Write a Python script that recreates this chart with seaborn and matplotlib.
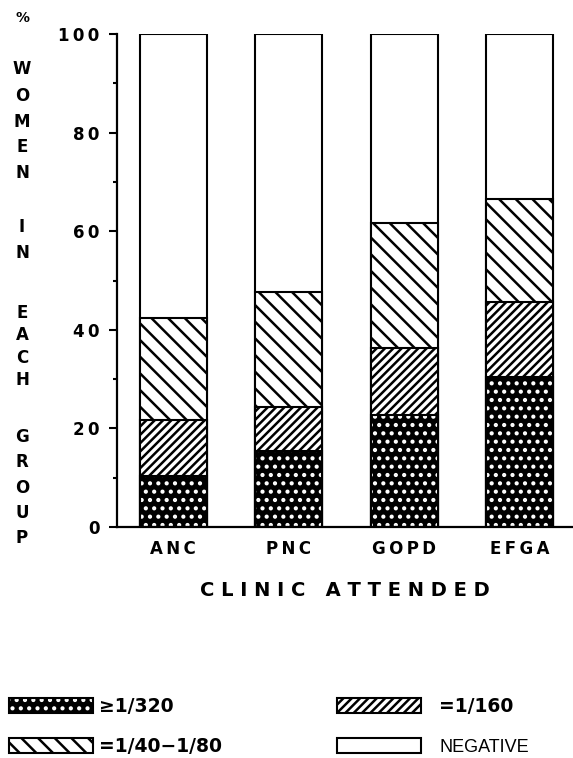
import numpy as np
import pandas as pd
import matplotlib
matplotlib.use('Agg')
import matplotlib.pyplot as plt
import seaborn as sns
from matplotlib.patches import Patch

# data (% of women in each group)
clinics = ['ANC', 'PNC', 'GOPD', 'EFGA']
titre_320 = [10.4, 15.4, 22.8, 30.4]      # >=1/320
titre_160 = [11.4, 8.9, 13.5, 15.3]       # =1/160
titre_40_80 = [20.7, 23.3, 25.3, 20.8]    # =1/40-1/80
negative = [57.5, 52.4, 38.4, 33.5]
legend_labels = ['≥1/320', '=1/160', '=1/40−1/80', 'NEGATIVE']
yticks = [0, 20, 40, 60, 80, 100]
ylabel = '% WOMEN IN EACH GROUP'
xlabel = 'CLINIC ATTENDED'

sns.set_style('ticks')
plt.rcParams['font.family'] = ['DejaVu Sans']
plt.rcParams['hatch.linewidth'] = 1.8
for k in ['text.color', 'axes.labelcolor', 'xtick.color', 'ytick.color', 'axes.edgecolor']:
    plt.rcParams[k] = 'black'

df = pd.DataFrame({'clinic': clinics, 'c320': titre_320, 'c160': titre_160,
                   'c40': titre_40_80, 'neg': negative})
df['top320'] = df['c320']
df['top160'] = df['top320'] + df['c160']
df['top40'] = df['top160'] + df['c40']
df['topneg'] = df['top40'] + df['neg']

fig = plt.figure(figsize=(5.73, 7.58), dpi=100)
ax = fig.add_axes([0.2037, 0.3047, 0.7963, 0.6504])

bw = 0.58
lw = 1.5
# tallest first, each layer covers the one below
sns.barplot(data=df, x='clinic', y='topneg', color='white', saturation=1, width=bw,
            edgecolor='black', linewidth=lw, errorbar=None, ax=ax)
sns.barplot(data=df, x='clinic', y='top40', color='white', saturation=1, width=bw,
            edgecolor='black', linewidth=lw, hatch='\\\\', errorbar=None, ax=ax)
sns.barplot(data=df, x='clinic', y='top160', color='white', saturation=1, width=bw,
            edgecolor='black', linewidth=lw, hatch='////', errorbar=None, ax=ax)
sns.barplot(data=df, x='clinic', y='top320', color='black', saturation=1, width=bw,
            edgecolor='white', linewidth=0, hatch='..', errorbar=None, ax=ax)
sns.barplot(data=df, x='clinic', y='top320', fill=False, color='black', width=bw,
            linewidth=lw, errorbar=None, ax=ax)

ax.set_ylim(0, 100)
ax.set_xlim(-0.49, 3.46)
sns.despine(ax=ax)
ax.spines['left'].set_linewidth(1.6)
ax.spines['bottom'].set_linewidth(1.6)
ax.set_yticks(yticks)
ax.set_yticks(np.arange(10, 100, 20), minor=True)
ax.set_yticklabels(['\u2009'.join(str(t)) for t in yticks], fontsize=12, fontweight='bold')
ax.set_xticks(range(len(clinics)))
ax.set_xticklabels(['\u2009'.join(c) for c in clinics], fontsize=12, fontweight='bold')
ax.tick_params(axis='y', which='major', length=5.5, width=1.5, pad=7)
ax.tick_params(axis='y', which='minor', length=3, width=1.5)
ax.tick_params(axis='x', length=0, pad=9)
ax.set_ylabel('')
ax.set_xlabel(' '.join(xlabel).replace('     ', '   '), fontsize=14, fontweight='bold',
              labelpad=17)

# stacked vertical y label
ypix = [18, 69, 96, 122, 147, 173, 227, 253, 313, 335, 358, 380, 437, 462, 488, 513, 538]
letters = [ch for ch in ylabel if ch != ' ']
for ch, yp in zip(letters, ypix):
    fig.text(22 / 573, 1 - yp / 758, ch, ha='center', va='center',
             fontsize=10 if ch == '%' else 12, fontweight='bold')

# legend
h320 = (Patch(facecolor='black', edgecolor='white', hatch='..', linewidth=0),
        Patch(facecolor='none', edgecolor='black', linewidth=lw))
h160 = Patch(facecolor='white', edgecolor='black', hatch='////', linewidth=lw)
h40 = Patch(facecolor='white', edgecolor='black', hatch='\\\\', linewidth=lw)
hneg = Patch(facecolor='white', edgecolor='black', linewidth=lw)

ymid = 1 - 726.5 / 758
leg1 = fig.legend([h320, h40], [legend_labels[0], legend_labels[2]],
                  loc='center left', bbox_to_anchor=(9 / 573, ymid), frameon=False,
                  borderpad=0, borderaxespad=0, handlelength=4.5, handleheight=0.85,
                  handletextpad=0.3, labelspacing=1.15,
                  prop={'size': 13.5, 'weight': 'bold'})
leg2 = fig.legend([h160, hneg], [legend_labels[1], legend_labels[3]],
                  loc='center left', bbox_to_anchor=(337 / 573, ymid), frameon=False,
                  borderpad=0, borderaxespad=0, handlelength=4.5, handleheight=0.85,
                  handletextpad=0.95, labelspacing=1.15,
                  prop={'size': 13.5, 'weight': 'bold'})
neg_text = leg2.get_texts()[1]
neg_text.set_family('Liberation Sans')
neg_text.set_fontweight('normal')
neg_text.set_fontsize(13)

fig.savefig('out.png', dpi=100)
